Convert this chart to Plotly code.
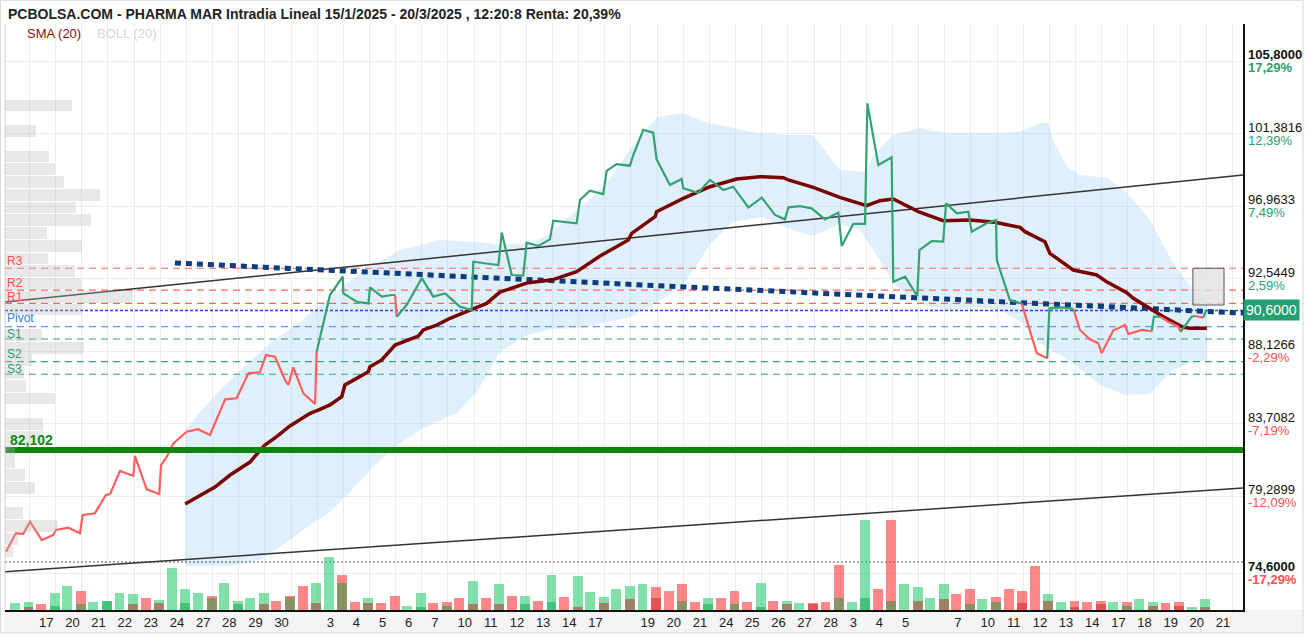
import plotly.graph_objects as go

# ---------------- DATA ----------------
# time axis: trading-day index (17 Jan 2025 = 0)
day_labels = ['17', '20', '21', '22', '23', '24', '27', '28', '29', '30', '',
              '3', '4', '5', '6', '7', '10', '11', '12', '13', '14', '17', '', '19', '20', '21',
              '24', '25', '26', '27', '28', '3', '4', '5', '', '7', '10', '11', '12', '13', '14',
              '17', '18', '19', '20', '21']

price_time = [-1.04, -0.66, -0.38, -0.12, 0.33, 0.77, 0.87, 1.34, 1.79, 1.89,
              2.36, 2.78, 2.94, 3.32, 3.55, 3.83, 3.89, 4.34, 4.82, 4.89,
              5.11, 5.36, 5.87, 6.31, 6.76, 7.34, 7.78, 8.23, 8.67, 8.90,
              9.25, 9.63, 9.76, 9.95, 10.33, 10.78, 10.84, 11.35, 11.84, 11.86,
              12.37, 12.82, 12.88, 13.33, 13.71, 13.84, 13.90, 14.28, 14.86, 15.30,
              15.75, 16.32, 16.77, 16.83, 17.47, 17.79, 17.92, 18.30, 18.74, 18.87,
              19.32, 19.76, 19.89, 20.34, 20.78, 20.91, 21.29, 21.80, 21.93, 22.31,
              22.82, 22.95, 23.33, 23.71, 23.84, 24.35, 24.80, 24.86, 25.43, 25.88,
              26.39, 26.77, 27.35, 27.86, 28.37, 28.75, 28.88, 29.32, 29.77, 30.28,
              30.79, 30.92, 31.36, 31.81, 31.90, 32.32, 32.83, 32.89, 33.34, 33.81,
              33.89, 34.36, 34.80, 34.91, 35.32, 35.76, 35.89, 36.46, 36.82, 36.85,
              37.35, 37.80, 38.38, 38.78, 38.86, 39.33, 39.78, 40.03, 40.41, 40.73,
              40.86, 41.30, 41.75, 41.88, 42.39, 42.77, 42.86, 43.09, 43.41, 43.79,
              43.88, 44.30, 44.43, 44.75, 44.85]
price = [75.90, 77.02, 76.98, 77.73, 76.61, 76.92, 77.22, 77.36, 77.02, 78.13,
         78.24, 79.35, 79.41, 80.82, 80.68, 80.53, 81.73, 79.70, 79.41, 81.18,
         81.69, 82.50, 83.21, 83.36, 83.01, 85.18, 85.25, 86.77, 86.83, 87.88,
         87.78, 86.36, 86.06, 87.13, 85.55, 84.90, 88.09, 91.54, 92.66, 91.64,
         91.13, 91.03, 92.01, 91.44, 91.54, 91.54, 90.22, 90.93, 92.56, 91.44,
         91.64, 90.83, 90.63, 93.57, 93.43, 93.37, 95.34, 92.76, 92.72, 94.73,
         94.53, 94.93, 96.07, 96.01, 95.91, 97.33, 97.90, 97.69, 99.10, 99.52,
         99.42, 100.07, 101.60, 101.43, 99.81, 98.24, 98.61, 98.04, 97.77, 98.55,
         97.94, 98.14, 96.88, 97.47, 96.42, 96.15, 96.88, 96.96, 96.82, 96.15,
         96.56, 94.53, 95.87, 95.87, 103.22, 99.46, 99.93, 92.35, 92.66, 91.48,
         94.28, 94.83, 94.79, 97.13, 96.52, 96.62, 95.40, 95.91, 96.11, 93.67,
         91.23, 91.03, 87.99, 87.68, 90.73, 90.79, 90.69, 89.41, 88.84, 88.60,
         87.99, 89.37, 89.71, 89.16, 89.41, 89.33, 90.22, 90.22, 89.91, 89.61,
         89.30, 90.22, 90.26, 90.16, 90.60]
# colour runs of the price line: (number of segments, direction)
price_runs = [(36, 'down'), (9, 'up'), (1, 'down'), (65, 'up'), (2, 'down'), (3, 'up'),
              (9, 'down'), (2, 'up'), (3, 'down'), (2, 'up'), (1, 'down'), (1, 'up')]

sma_time = [5.81, 6.38, 6.95, 7.53, 8.29, 8.86, 9.31, 9.82, 10.08, 10.59,
            10.90, 11.35, 11.80, 11.92, 12.37, 12.82, 12.88, 13.33, 13.84, 14.34,
            14.73, 14.92, 15.43, 15.94, 16.77, 17.34, 17.85, 18.36, 18.93, 19.83,
            20.78, 21.68, 22.76, 22.89, 23.78, 23.84, 24.86, 25.88, 26.90, 27.79,
            28.69, 28.88, 29.83, 30.85, 31.87, 32.38, 32.89, 33.85, 34.80, 35.83,
            36.78, 37.74, 37.93, 38.69, 38.88, 39.78, 40.67, 41.05, 41.82, 42.07,
            42.71, 43.22, 43.98, 44.24, 44.88]
sma = [78.80, 79.35, 79.84, 80.57, 81.36, 82.40, 82.91, 83.56, 83.82, 84.33,
       84.53, 84.84, 85.34, 86.06, 86.46, 86.87, 87.17, 87.58, 88.49, 88.80,
       89.04, 89.41, 89.71, 90.12, 90.63, 91.03, 91.72, 92.01, 92.29, 92.45,
       92.96, 93.92, 94.89, 95.30, 96.31, 96.62, 97.43, 98.14, 98.61, 98.75,
       98.69, 98.55, 98.10, 97.49, 96.98, 97.29, 97.39, 96.62, 96.07, 96.11,
       95.97, 95.66, 95.40, 94.79, 94.08, 93.06, 92.76, 92.35, 91.68, 91.34,
       90.73, 90.22, 89.57, 89.51, 89.51]

boll_up_time = [5.81, 6.38, 7.41, 8.29, 9.06, 10.20, 11.24, 12.00, 13.15, 14.03,
                15.56, 17.09, 17.85, 18.88, 19.38, 19.88, 20.26, 20.91, 21.56, 22.17,
                22.71, 23.21, 23.86, 24.85, 25.77, 26.65, 27.68, 28.83, 29.82, 30.85,
                31.89, 32.08, 32.88, 33.91, 34.95, 35.94, 36.97, 37.74, 38.50, 38.81,
                39.00, 39.53, 40.03, 41.06, 41.83, 42.71, 43.59, 44.35, 44.89]
boll_up = [83.31, 84.41, 86.18, 87.46, 88.62, 89.90, 91.24, 92.27, 93.49, 94.28,
           94.89, 94.77, 94.59, 94.71, 94.95, 95.38, 95.99, 96.90, 97.76, 98.85,
           100.19, 101.17, 102.39, 102.63, 102.02, 101.78, 101.41, 101.29, 101.29, 99.16,
           99.04, 99.95, 101.29, 101.72, 101.41, 101.41, 101.41, 101.47, 102.02, 102.02,
           100.98, 99.34, 98.85, 98.67, 97.76, 96.11, 93.49, 91.84, 91.23]
boll_lo_time = [5.81, 7.53, 8.67, 9.82, 10.59, 11.35, 12.12, 12.88, 13.76, 14.79,
                16.21, 16.97, 17.85, 18.88, 19.84, 20.91, 21.68, 22.75, 23.82, 24.85,
                25.88, 26.76, 27.91, 28.83, 29.82, 30.85, 31.62, 32.12, 32.96, 33.80,
                34.95, 35.94, 36.97, 37.85, 38.50, 39.76, 40.80, 41.75, 42.71, 43.59,
                44.24, 44.89]
boll_lo = [75.03, 75.03, 75.39, 76.61, 77.52, 78.32, 79.54, 80.88, 82.22, 83.31,
           84.35, 85.63, 88.07, 89.10, 89.47, 89.53, 89.83, 90.14, 91.05, 92.15,
           94.59, 95.99, 96.29, 95.62, 95.14, 95.87, 95.50, 94.28, 92.15, 91.05,
           90.63, 90.81, 90.63, 89.83, 88.62, 87.40, 86.06, 85.45, 85.51, 86.97,
           87.40, 87.58]

# volume per half-day session (thousand shares), from 16 Jan to 20 Mar
vol_main = [6.7, 8.3, 6.0, 16.7, 24.3, 19.3, 8.0, 9.3, 16.7, 15.7,
            11.7, 10.3, 42, 20.7, 16.7, 14.0, 26.7, 9.3, 11.7, 16.7,
            9.3, 14.3, 24.3, 26.7, 53, 35, 8.3, 11.7, 6.7, 14.3,
            4.3, 16.7, 6.7, 8.3, 11.7, 29, 11.7, 25.7, 14.3, 14.3,
            9.3, 35, 13.3, 34, 18.3, 13.3, 20.7, 24, 26, 23.3,
            19.3, 26, 8.3, 11.7, 11.7, 19.3, 8, 26.7, 9.3, 9.3,
            6.7, 6.7, 8, 45, 8, 90, 20.7, 90, 25.7, 23.3,
            11.7, 25.7, 15.7, 20.7, 10.7, 13.3, 20.7, 19.3, 44, 15.7,
            8.3, 9.3, 8.3, 9.3, 8.3, 8.3, 10.7, 8.3, 6.7, 8.3,
            3.3, 10.7]
vol_main_side = ("ggrggrgggg" "rggggrgggg" "rrrggrrgrr" "ggrrrgrgrg" "rgrggggggr"
                 "rrrgrrrgrg" "grrrggrrgg" "ggrrgrrrrg" "grrrgrggrr" "gg")
vol_second = [3.3, 4.3, 5.7, 9.3, 5.7, 6.7, 6.7, 12, 5.7, 5.7,
              13.3, 6.7, 27, 6.7, 0, 2.7, 4.3, 5.7, 5.7, 5.7,
              8, 3.3, 6.7, 10.7, 11.7, 9.3, 5.7, 5.7, 3.3, 5.7,
              5.7, 11.7, 11.7, 9.3, 9.3, 10.7, 5.7, 8.3, 6.7, 9.3,
              3.3, 5.7, 4.3, 4.3, 4.3, 3.3]
vol_second_side = "rgggrrgggr" "grgrgggrrg" "grrrrggggr" "rgggrrggrr" "rrgrrr"

# volume profile by price bin
profile_price = [103.09, 102.31, 101.54, 100.76, 99.98, 99.21, 98.43, 97.65, 96.87, 96.10,
                 95.32, 94.55, 93.77, 92.99, 92.22, 91.44, 90.66, 89.88, 89.11, 88.33,
                 87.56, 86.78, 86.00, 85.23, 84.45, 83.67, 82.90, 82.12, 81.34, 80.57,
                 79.79, 79.01, 78.24, 77.46, 76.68, 75.91]
profile_vol = [67, 0, 31, 0, 44, 50, 59, 95, 71, 86,
               42, 77, 43, 70, 76, 128, 77, 0, 37, 79,
               27, 19, 21, 50, 0, 38, 38, 10, 10, 20,
               30, 0, 18, 53, 13, 8]

# levels
pivot_levels = {'R3': 93.17, 'R2': 91.84, 'R1': 91.03, 'Pivot': 89.61,
                'S1': 88.86, 'S2': 87.48, 'S3': 86.71}
label_shift = {'R3': 7, 'R2': 7, 'R1': 6, 'Pivot': 9, 'S1': 5, 'S2': 8, 'S3': 5}
last_price = 90.60
support_level = 82.102
period_low_line = 75.27
box_time = [44.35, 45.54]
box_price = [90.93, 93.17]

# trend lines (time, price)
trend_upper = [(-1.078, 91.11), (46.265, 98.85)]
trend_lower = [(-1.078, 74.68), (46.265, 79.78)]
trend_dotted = [(5.42, 93.49), (46.265, 90.44)]

axis_prices = [105.8, 101.3816, 96.9633, 92.5449, 88.1266, 83.7082, 79.2899, 74.6]
axis_price_text = ['105,8000', '101,3816', '96,9633', '92,5449', '88,1266', '83,7082', '79,2899', '74,6000']
axis_pct_text = ['17,29%', '12,39%', '7,49%', '2,59%', '-2,29%', '-7,19%', '-12,09%', '-17,29%']

# ---------------- FIGURE ----------------
X_RANGE = [-1.078, 46.265]
Y_RANGE = [72.345, 108.055]
FONT = 'Liberation Sans'

fig = go.Figure()

# volume profile (left, horizontal)
fig.add_trace(go.Bar(orientation='h', y=profile_price, x=profile_vol, xaxis='x2', yaxis='y',
                     width=0.72, marker=dict(color='rgba(185,185,185,0.33)', line=dict(width=0)),
                     hoverinfo='skip'))

# volume bars
sessions = [d + off for d in range(-1, 45) for off in (0.3, 0.82)]
GREEN_V, RED_V = 'rgba(46,204,113,0.6)', 'rgba(255,55,55,0.6)'
fig.add_trace(go.Bar(x=sessions, y=vol_main, yaxis='y2', width=0.38,
                     marker=dict(color=[GREEN_V if s == 'g' else RED_V for s in vol_main_side],
                                 line=dict(width=0))))
fig.add_trace(go.Bar(x=sessions[1::2], y=vol_second, yaxis='y2', width=0.38,
                     marker=dict(color=['rgba(0,160,60,0.45)' if s == 'g' else 'rgba(190,20,20,0.45)'
                                        for s in vol_second_side], line=dict(width=0))))

# Bollinger band
fig.add_trace(go.Scatter(x=boll_up_time + boll_lo_time[::-1], y=boll_up + boll_lo[::-1],
                         fill='toself', fillcolor='rgba(150,205,245,0.30)', mode='lines',
                         line=dict(width=0), hoverinfo='skip'))

# horizontal levels
def hline(v, color, dash, width):
    fig.add_trace(go.Scatter(x=X_RANGE, y=[v, v], mode='lines',
                             line=dict(color=color, dash=dash, width=width), hoverinfo='skip'))

LVL_COL = {'R': '#ff6464', 'P': '#5a9cf0', 'S': '#33a679'}
for name, v in pivot_levels.items():
    hline(v, LVL_COL[name[0]], '7px,5px', 1.2)
hline(last_price, '#2b3ff0', '3px,2px', 1.5)
hline(period_low_line, '#555555', '2px,2px', 1)

# trend lines
for tl, col, w, dash in [(trend_upper, '#333333', 1.5, 'solid'), (trend_lower, '#333333', 1.5, 'solid'),
                         (trend_dotted, '#0b3d7e', 5, '6px,5px')]:
    fig.add_trace(go.Scatter(x=[p[0] for p in tl], y=[p[1] for p in tl], mode='lines',
                             line=dict(color=col, width=w, dash=dash), hoverinfo='skip'))

# SMA
fig.add_trace(go.Scatter(x=sma_time, y=sma, mode='lines', line=dict(color='#7a0000', width=3.5)))

# price line coloured by runs
rx, ry, gx, gy = [], [], [], []
i = 0
for n, d in price_runs:
    xs, ys = price_time[i:i + n + 1], price[i:i + n + 1]
    if d == 'down':
        rx += xs + [None]; ry += ys + [None]
    else:
        gx += xs + [None]; gy += ys + [None]
    i += n
fig.add_trace(go.Scatter(x=rx, y=ry, mode='lines', line=dict(color='#ff5f5f', width=2.2)))
fig.add_trace(go.Scatter(x=gx, y=gy, mode='lines', line=dict(color='#36a173', width=2.2)))

# support line
hline(support_level, '#0b850b', 'solid', 6)

# ---------------- LAYOUT ----------------
tickvals, ticktext = [], []
for k, lab in enumerate(day_labels):
    if lab:
        tickvals.append(k + 0.22 + 0.14 * len(lab))
        ticktext.append(lab)

shapes = [
    dict(type='rect', xref='paper', yref='paper', x0=-0.0008, x1=1.0485, y0=-0.0392, y1=0,
         fillcolor='#f4f4f4', line=dict(width=0), layer='below'),
    dict(type='rect', xref='paper', yref='paper', x0=-0.0036, x1=1.0485, y0=-0.0392, y1=1.0405,
         fillcolor='rgba(0,0,0,0)', line=dict(color='#d9d9d9', width=1)),
    dict(type='line', xref='paper', yref='paper', x0=0, x1=0, y0=0, y1=1,
         line=dict(color='#cfcfcf', width=1)),
    dict(type='rect', xref='x', yref='y', x0=box_time[0], x1=box_time[1], y0=box_price[0], y1=box_price[1],
         fillcolor='rgba(225,225,225,0.8)', line=dict(color='#555555', width=1), layer='above'),
]

ann = []
ann.append(dict(xref='paper', yref='paper', x=0.0008, y=1.017, xanchor='left', yanchor='middle',
                showarrow=False,
                text='<b>PCBOLSA.COM - PHARMA MAR Intradia Lineal 15/1/2025 - 20/3/2025 , 12:20:8 Renta: 20,39%</b>',
                font=dict(family=FONT, size=14, color='#222222')))
ann.append(dict(xref='paper', yref='paper', x=0.0162, y=0.983, xanchor='left', yanchor='middle',
                showarrow=False, text='SMA (20)', font=dict(family=FONT, size=13, color='#8b0f0f')))
ann.append(dict(xref='paper', yref='paper', x=0.0727, y=0.983, xanchor='left', yanchor='middle',
                showarrow=False, text='BOLL (20)', font=dict(family=FONT, size=13, color='#d5d5d5')))
LBL_COL = {'R': '#ff4f4f', 'P': '#3c82d8', 'S': '#2e9e6e'}
for name, v in pivot_levels.items():
    ann.append(dict(xref='paper', yref='y', x=0.0, y=v, xanchor='left', yanchor='middle',
                    yshift=label_shift[name], showarrow=False, text=name,
                    font=dict(family=FONT, size=12, color=LBL_COL[name[0]])))
ann.append(dict(xref='paper', yref='y', x=0.0024, y=support_level, xanchor='left', yanchor='middle',
                yshift=10, showarrow=False, text='<b>82,102</b>',
                font=dict(family=FONT, size=14, color='#118811')))
for k, (v, pt, pc) in enumerate(zip(axis_prices, axis_price_text, axis_pct_text)):
    bold = k in (0, len(axis_prices) - 1)
    ann.append(dict(xref='paper', yref='y', x=1.0024, y=v, xanchor='left', yanchor='middle', yshift=6.5,
                    showarrow=False, text=f'<b>{pt}</b>' if bold else pt,
                    font=dict(family=FONT, size=13, color='#111111')))
    ann.append(dict(xref='paper', yref='y', x=1.0024, y=v, xanchor='left', yanchor='middle', yshift=-6.5,
                    showarrow=False, text=f'<b>{pc}</b>' if bold else pc,
                    font=dict(family=FONT, size=13, color='#2e9e6e' if not pc.startswith('-') else '#ff4f4f')))
ann.append(dict(xref='paper', yref='y', x=1.0, y=last_price, xanchor='left', yanchor='middle',
                showarrow=False, text='90,6000', bgcolor='#26a072', borderpad=2,
                font=dict(family=FONT, size=14, color='white')))

fig.update_layout(
    width=1309, height=638, margin=dict(l=5, r=66, t=24, b=28),
    plot_bgcolor='white', paper_bgcolor='white', showlegend=False,
    barmode='overlay', bargap=0,
    xaxis=dict(range=X_RANGE, tickmode='array', tickvals=tickvals, ticktext=ticktext,
               showgrid=False, zeroline=False, showline=True, linecolor='#111111', linewidth=1.5,
               ticks='', tickfont=dict(family=FONT, size=13, color='#222222'),
               minor=dict(tickmode='linear', tick0=-0.14, dtick=1, showgrid=True,
                          gridcolor='#ececec', gridwidth=1, ticks='')),
    xaxis2=dict(range=[0, 1238], overlaying='x', visible=False),
    yaxis=dict(range=Y_RANGE, side='right', tickmode='array', tickvals=axis_prices,
               showticklabels=False, ticks='', showgrid=True, gridcolor='#ececec',
               zeroline=False, showline=True, linecolor='#111111', linewidth=1.5),
    yaxis2=dict(range=[0, 586], overlaying='y', visible=False),
    shapes=shapes, annotations=ann,
)

fig.write_html('out.html')
